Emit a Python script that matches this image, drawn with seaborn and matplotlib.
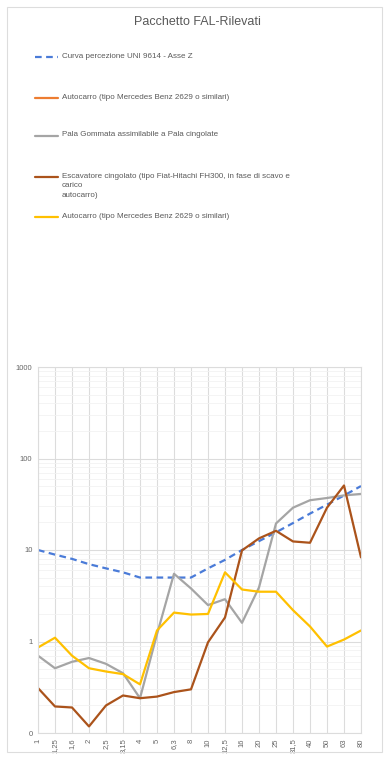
import numpy as np
import pandas as pd
import seaborn as sns
import matplotlib.pyplot as plt
from matplotlib.lines import Line2D
from matplotlib.patches import Rectangle

# frequenze (Hz) in terzi d'ottava
freq_labels = ['1', '1,25', '1,6', '2', '2,5', '3,15', '4', '5', '6,3', '8',
               '10', '12,5', '16', '20', '25', '31,5', '40', '50', '63', '80']

uni_9614_z = [10, 8.9, 8.0, 7.0, 6.3, 5.7, 5.0, 5.0, 5.0, 5.0,
              6.3, 7.8, 10, 12.5, 15.6, 19.7, 25, 31.3, 39.4, 50]
autocarro_1 = [np.nan] * 20
pala_gommata = [0.70, 0.51, 0.60, 0.66, 0.57, 0.45, 0.24, 1.2, 5.5, 3.8,
                2.5, 2.9, 1.6, 3.9, 19.5, 29, 35, 37, 39.5, 41]
escavatore = [0.31, 0.195, 0.19, 0.118, 0.20, 0.257, 0.24, 0.25, 0.28, 0.30,
              0.98, 1.83, 9.9, 13.4, 16.2, 12.4, 12.0, 29, 50.7, 8.3]
autocarro_2 = [0.86, 1.1, 0.70, 0.51, 0.47, 0.44, 0.34, 1.32, 2.07, 1.97,
               2.0, 5.7, 3.7, 3.5, 3.5, 2.2, 1.46, 0.88, 1.05, 1.32]

series_names = ['Curva percezione UNI 9614 - Asse Z',
                'Autocarro (tipo Mercedes Benz 2629 o similari)',
                'Pala Gommata assimilabile a Pala cingolate',
                'Escavatore cingolato (tipo Fiat-Hitachi FH300, in fase di scavo e\ncarico\nautocarro)',
                'Autocarro (tipo Mercedes Benz 2629 o similari)']
series_values = [uni_9614_z, autocarro_1, pala_gommata, escavatore, autocarro_2]
colors = ['#4a7bd8', '#ED7D31', '#A5A5A5', '#AB531B', '#FFC000']

sns.set_style('white')
plt.rcParams['font.family'] = ['Liberation Sans', 'DejaVu Sans']

fig = plt.figure(figsize=(3.84, 7.6), dpi=100)
ax = fig.add_axes([38 / 384, 1 - 733 / 760, 323 / 384, 366 / 760])

x = np.arange(len(freq_labels))
for i, (name, vals, col) in enumerate(zip(series_names, series_values, colors)):
    df = pd.DataFrame({'x': x, 'y': vals})
    sns.lineplot(data=df, x='x', y='y', ax=ax, color=col, linewidth=1.6,
                 linestyle='--' if i == 0 else '-', label=name, legend=False)
ax.lines[0].set_dashes([3, 2])

ax.set_yscale('log')
ax.set_ylim(0.1, 1000)
ax.set_xlim(0, len(freq_labels) - 1)
ax.set_yticks([0.1, 1, 10, 100, 1000])
ax.set_yticklabels(['0', '1', '10', '100', '1000'])
ax.set_xticks(x)
ax.set_xticklabels(freq_labels, rotation=90)
ax.tick_params(axis='both', labelsize=5.5, colors='#666666', length=0, pad=4)
ax.set_xlabel('')
ax.set_ylabel('')
ax.grid(True, which='major', color='#dcdcdc', linewidth=0.8)
ax.grid(True, which='minor', axis='y', color='#f2f2f2', linewidth=0.6)
for s in ax.spines.values():
    s.set_color('#dcdcdc')
    s.set_linewidth(0.8)

# titolo e legenda in alto
fig.text(197 / 384, 1 - 22 / 760, 'Pacchetto FAL-Rilevati', ha='center', va='center',
         fontsize=9, color='#595959')
legend_y = [57, 98, 136, 177, 217]
for line, name, ly in zip(ax.lines, series_names, legend_y):
    yy = 1 - ly / 760
    fig.add_artist(Line2D([35 / 384, 58 / 384], [yy, yy], color=line.get_color(),
                          linestyle=line.get_linestyle(), linewidth=1.6,
                          dashes=(3, 2) if line.get_linestyle() == '--' else (None, None)))
    fig.text(62 / 384, yy + 4.5 / 760, name, ha='left', va='top', fontsize=5.8,
             color='#595959', linespacing=1.55)

fig.add_artist(Rectangle((7 / 384, 1 - 752 / 760), 375 / 384, 745 / 760,
                         transform=fig.transFigure, fill=False, edgecolor='#dddddd',
                         linewidth=0.8))

fig.savefig('out.png', dpi=100)
